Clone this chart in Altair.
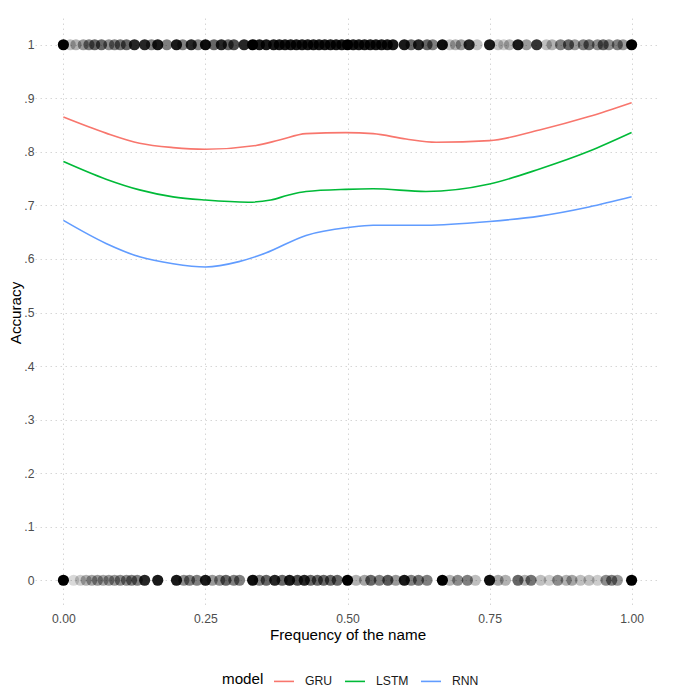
import altair as alt
import pandas as pd

# ---- data ----
gru_x = [0, 0.075, 0.134, 0.193, 0.25, 0.339, 0.38, 0.427, 0.497, 0.545, 0.603, 0.656, 0.75, 0.838, 0.925, 1.0]
gru_y = [0.865, 0.835, 0.816, 0.808, 0.805, 0.812, 0.822, 0.834, 0.836, 0.834, 0.824, 0.818, 0.821, 0.841, 0.866, 0.892]

lstm_x = [0, 0.075, 0.134, 0.193, 0.25, 0.325, 0.365, 0.395, 0.427, 0.497, 0.545, 0.638, 0.75, 0.838, 0.925, 1.0]
lstm_y = [0.782, 0.749, 0.729, 0.716, 0.710, 0.706, 0.710, 0.719, 0.726, 0.730, 0.731, 0.726, 0.740, 0.768, 0.801, 0.836]

rnn_x = [0, 0.075, 0.134, 0.193, 0.25, 0.309, 0.356, 0.427, 0.503, 0.545, 0.638, 0.75, 0.838, 0.925, 1.0]
rnn_y = [0.672, 0.629, 0.604, 0.591, 0.585, 0.595, 0.611, 0.644, 0.659, 0.663, 0.663, 0.670, 0.680, 0.697, 0.716]

# points at accuracy 1 (x position, darkness)
top_x = [0.0, 0.012, 0.022, 0.035, 0.045, 0.055, 0.067, 0.08, 0.09, 0.1, 0.111, 0.125, 0.143, 0.155,
         0.166, 0.182, 0.199, 0.21, 0.225, 0.237, 0.25, 0.265, 0.278, 0.29, 0.3, 0.318, 0.333,
         0.345, 0.357, 0.37, 0.38, 0.39, 0.4, 0.41, 0.42, 0.43, 0.44, 0.45, 0.46, 0.47, 0.48, 0.49,
         0.5, 0.51, 0.52, 0.53, 0.54, 0.55, 0.56, 0.57, 0.58, 0.6, 0.612, 0.625, 0.64, 0.65, 0.667,
         0.68, 0.69, 0.7, 0.714, 0.728, 0.75, 0.765, 0.775, 0.785, 0.8, 0.815, 0.833, 0.85, 0.86,
         0.875, 0.889, 0.9, 0.915, 0.925, 0.94, 0.95, 0.96, 0.975, 0.985, 1.0]
top_a = [1.0, 0.25, 0.3, 0.4, 0.5, 0.6, 0.6, 0.45, 0.5, 0.55, 0.6, 0.85, 0.85, 0.5,
         0.9, 0.5, 0.9, 0.5, 0.85, 0.5, 0.95, 0.6, 0.85, 0.6, 0.7, 0.85, 1.0,
         0.9, 0.9, 0.9, 0.9, 0.9, 0.9, 0.9, 0.9, 0.9, 0.9, 0.9, 0.9, 0.9, 0.9, 0.9,
         1.0, 0.9, 0.9, 0.9, 0.9, 0.9, 0.9, 0.9, 0.9, 0.9, 0.6, 0.85, 0.6, 0.5, 0.95,
         0.25, 0.3, 0.4, 0.85, 0.25, 0.9, 0.25, 0.2, 0.3, 0.9, 0.4, 0.8, 0.25, 0.3,
         0.5, 0.6, 0.4, 0.5, 0.55, 0.45, 0.6, 0.45, 0.5, 0.4, 1.0]

# points at accuracy 0
bot_x = [0.0, 0.018, 0.03, 0.04, 0.05, 0.06, 0.07, 0.08, 0.09, 0.1, 0.111, 0.12, 0.13, 0.143,
         0.166, 0.199, 0.212, 0.222, 0.235, 0.25, 0.262, 0.275, 0.286, 0.3, 0.31, 0.333, 0.345,
         0.357, 0.372, 0.385, 0.398, 0.412, 0.424, 0.435, 0.447, 0.458, 0.47, 0.482, 0.5, 0.515,
         0.53, 0.541, 0.556, 0.571, 0.585, 0.6, 0.612, 0.625, 0.64, 0.667, 0.68, 0.694, 0.711,
         0.725, 0.75, 0.765, 0.778, 0.8, 0.812, 0.823, 0.84, 0.855, 0.87, 0.885, 0.895, 0.91,
         0.925, 0.94, 0.955, 0.965, 0.975, 1.0]
bot_a = [1.0, 0.15, 0.2, 0.3, 0.35, 0.4, 0.35, 0.4, 0.4, 0.45, 0.45, 0.5, 0.5, 0.85,
         0.9, 0.9, 0.45, 0.5, 0.5, 0.9, 0.4, 0.45, 0.6, 0.5, 0.5, 0.95, 0.5,
         0.6, 0.85, 0.6, 0.9, 0.7, 0.85, 0.6, 0.6, 0.6, 0.6, 0.6, 1.0, 0.3,
         0.35, 0.6, 0.5, 0.65, 0.4, 0.9, 0.5, 0.55, 0.5, 1.0, 0.3, 0.45, 0.5,
         0.25, 0.95, 0.35, 0.3, 0.6, 0.3, 0.55, 0.25, 0.2, 0.45, 0.3, 0.35, 0.25,
         0.25, 0.2, 0.45, 0.5, 0.4, 1.0]

models = ["GRU", "LSTM", "RNN"]
colors = ["#F8766D", "#00BA38", "#619CFF"]
x_ticks = [0, 0.25, 0.5, 0.75, 1.0]
y_ticks = [0, 0.1, 0.2, 0.3, 0.4, 0.5, 0.6, 0.7, 0.8, 0.9, 1.0]
y_tick_labels = ["0", ".1", ".2", ".3", ".4", ".5", ".6", ".7", ".8", ".9", "1"]

# ---- tables ----
lines_df = pd.concat([
    pd.DataFrame({"freq": gru_x, "acc": gru_y, "model": "GRU"}),
    pd.DataFrame({"freq": lstm_x, "acc": lstm_y, "model": "LSTM"}),
    pd.DataFrame({"freq": rnn_x, "acc": rnn_y, "model": "RNN"}),
], ignore_index=True)

pts_df = pd.concat([
    pd.DataFrame({"freq": top_x, "acc": 1.0, "alpha": top_a}),
    pd.DataFrame({"freq": bot_x, "acc": 0.0, "alpha": bot_a}),
], ignore_index=True)

label_map = "{" + ",".join(f"'{v:.1f}':'{l}'" for v, l in zip(y_ticks, y_tick_labels)) + "}"

x_enc = alt.X("freq:Q", title="Frequency of the name",
              scale=alt.Scale(domain=[-0.05, 1.05], nice=False, zero=False),
              axis=alt.Axis(values=x_ticks, format=".2f"))
y_enc = alt.Y("acc:Q", title="Accuracy",
              scale=alt.Scale(domain=[-0.05, 1.05], nice=False, zero=False),
              axis=alt.Axis(values=y_ticks,
                            labelExpr=f"{label_map}[format(datum.value, '.1f')]"))

points = alt.Chart(pts_df).mark_circle(size=125, color="black").encode(
    x=x_enc, y=y_enc,
    opacity=alt.Opacity("alpha:Q", scale=None, legend=None),
)

lines = alt.Chart(lines_df).mark_line(strokeWidth=1.6, interpolate="monotone").encode(
    x=x_enc, y=y_enc,
    color=alt.Color("model:N", title="model",
                    scale=alt.Scale(domain=models, range=colors),
                    legend=alt.Legend(orient="none", legendX=187, legendY=652,
                                      direction="horizontal", titleOrient="left",
                                      symbolType="stroke", symbolSize=400,
                                      symbolStrokeWidth=1.6, labelOffset=10,
                                      columnPadding=8, titlePadding=9)),
)

chart = alt.layer(points, lines).properties(
    width=625, height=589,
    padding={"left": 0, "top": 10, "right": 0, "bottom": 0},
).configure_view(
    stroke=None
).configure_axis(
    domain=False, ticks=False,
    grid=True, gridColor="#d6d6d6", gridDash=[1.5, 3.5], gridWidth=1,
    labelFont="Liberation Sans", labelFontSize=12.2, labelColor="#4d4d4d",
    titleFont="Liberation Sans", titleFontSize=15.2, titleFontWeight="normal", titleColor="#000000",
).configure_axisX(
    labelPadding=5, titlePadding=3,
).configure_axisY(
    labelPadding=1, titlePadding=0,
).configure_legend(
    labelFont="Liberation Sans", labelFontSize=12.2, labelColor="#1a1a1a",
    titleFont="Liberation Sans", titleFontSize=15.2, titleFontWeight="normal", titleColor="#000000",
)

chart.save("out.html", embed_options={"renderer": "svg", "actions": False})
